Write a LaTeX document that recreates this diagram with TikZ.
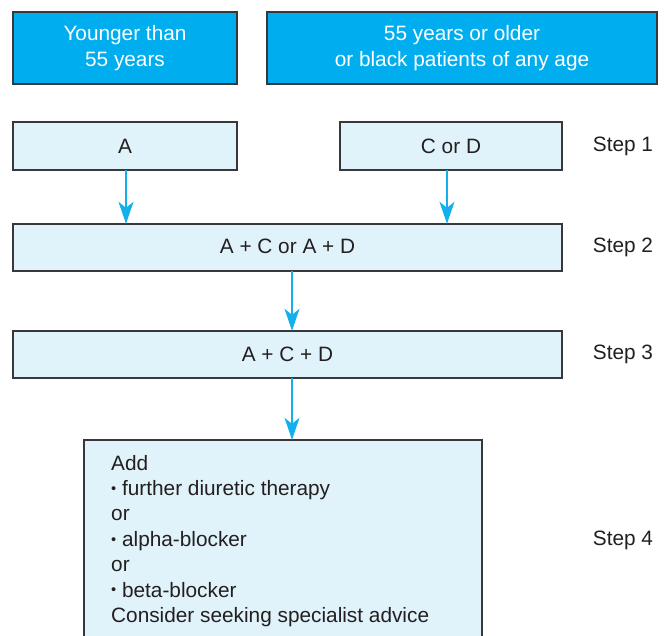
\documentclass[tikz,border=0pt]{standalone}
\usepackage{fontspec}
\setmainfont{Liberation Sans}
\usetikzlibrary{arrows.meta}
\definecolor{cyanfill}{RGB}{0,174,239}
\definecolor{lightfill}{RGB}{224,243,251}
\definecolor{ink}{RGB}{35,31,32}
\definecolor{edge}{RGB}{55,55,60}
\definecolor{arrowc}{RGB}{20,176,235}
\tikzset{
  headbox/.style={draw=edge, line width=1.4pt, fill=cyanfill, text=white, align=center, font=\fontsize{20.8}{26}\selectfont},
  stepbox/.style={draw=edge, line width=1.2pt, fill=lightfill, text=ink, font=\fontsize{20.8}{25}\selectfont},
  steplabel/.style={text=ink, font=\fontsize{20.8}{25}\selectfont, inner sep=0pt},
  flow/.style={draw=arrowc, line width=1.8pt, -{Stealth[length=22pt,width=15pt,inset=6pt]}}
}
\newcommand{\smallbul}{\raisebox{0.2ex}{\scalebox{0.7}{•}}\ }
\begin{document}
\begin{tikzpicture}[x=1pt,y=-1pt]
\useasboundingbox (0,0) rectangle (669,636);
\begin{scope}
\clip (0,0) rectangle (669,636);
% header boxes
\draw[headbox] (13,12) rectangle (237,84);
\node[headbox, draw=none, fill=none] (h1) at (125,48) {Younger than\\55 years};
\draw[headbox] (267,12) rectangle (657,84);
\node[headbox, draw=none, fill=none] (h2) at (462,48) {55 years or older\\or black patients of any age};
% step boxes
\path[stepbox] (13,122) rectangle (237,170);
\node[inner sep=0pt,minimum width=224pt,minimum height=48pt] (abox) at (125,146) {};
\node[text=ink, font=\fontsize{20.8}{25}\selectfont] (a) at (125,146) {A};
\path[stepbox] (340,122) rectangle (562,170);
\node[inner sep=0pt,minimum width=222pt,minimum height=48pt] (cd) at (451,146) {};
\node[text=ink, font=\fontsize{20.8}{25}\selectfont] (cdt) at (451,146) {C or D};
\path[stepbox] (13,224) rectangle (562,271);
\node[inner sep=0pt,minimum width=549pt,minimum height=47pt] (s2) at (287.5,247.5) {};
\node[text=ink, font=\fontsize{20.8}{25}\selectfont] (s2t) at (287.5,246) {A + C or A + D};
\path[stepbox] (13,331) rectangle (562,378);
\node[inner sep=0pt,minimum width=549pt,minimum height=47pt] (s3) at (287.5,354.5) {};
\node[text=ink, font=\fontsize{20.8}{25}\selectfont] (s3t) at (287.5,354) {A + C + D};
\path[stepbox] (84,440) rectangle (482,660);
\node[inner sep=0pt,minimum width=398pt,minimum height=220pt] (s4) at (283,550) {};
\node[text=ink, font=\fontsize{20.8}{25.4}\selectfont, align=left, anchor=base west, inner sep=0pt] (txt) at (111,622.4)
  {Add\\\smallbul further diuretic therapy\\or\\\smallbul alpha-blocker\\or\\\smallbul beta-blocker\\Consider seeking specialist advice};
\end{scope}
% step labels
\node[steplabel] (l1) at (623,146) {Step 1};
\node[steplabel] (l2) at (623,247) {Step 2};
\node[steplabel] (l3) at (623,354) {Step 3};
\node[steplabel] (l4) at (623,540) {Step 4};
% arrows
\draw[flow] ([xshift=1pt]abox.south) -- ([xshift=1pt]abox.south |- s2.north);
\draw[flow] ([xshift=-4pt]cd.south) -- ([xshift=-4pt]cd.south |- s2.north);
\draw[flow] ([xshift=4.5pt]s2.south) -- ([xshift=4.5pt]s2.south |- s3.north);
\draw[flow] ([xshift=4.5pt]s3.south) -- ([xshift=4.5pt]s3.south |- s4.north);
\end{tikzpicture}
\end{document}
